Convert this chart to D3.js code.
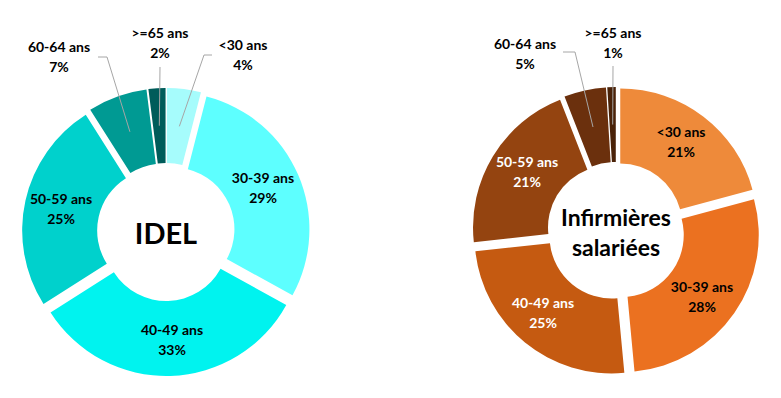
<!DOCTYPE html>
<html>
<head>
<meta charset="utf-8">
<script src="https://cdn.jsdelivr.net/npm/d3@7/dist/d3.min.js"></script>
<style>
  html, body { margin: 0; padding: 0; background: #ffffff; }
  svg { display: block; }
  text { font-family: Lato, "Open Sans", sans-serif; font-weight: 700; }
</style>
</head>
<body>
<svg id="chart" width="781" height="398"></svg>
<script>
// ---- Data ----
const categories = ["<30 ans", "30-39 ans", "40-49 ans", "50-59 ans", "60-64 ans", ">=65 ans"];
const idelValues = [4, 29, 33, 25, 7, 2];
const salarieesValues = [21, 28, 25, 21, 5, 1];
const idelTitle = ["IDEL"];
const salarieesTitle = ["Infirmières", "salariées"];

// ---- Styles / layout (not data) ----
const idelColors = ["#A6FCFC", "#5DFFFF", "#00F3EF", "#00D1CC", "#009A93", "#005C5A"];
const salarieesColors = ["#EE8A3A", "#EB7120", "#C55A11", "#944410", "#6B300D", "#4A2208"];
const idelLabelColors = ["#000", "#000", "#000", "#000", "#000", "#000"];
const salarieesLabelColors = ["#000", "#000", "#fff", "#fff", "#000", "#000"];

// label anchor (first-line baseline) relative to donut centre
const idelLabelPos = [[77, -182], [97, -49], [6, 103], [-105, -28], [-107, -180], [-6, -194]];
const salarieesLabelPos = [[65, -94], [86, 61], [-73, 77], [-89, -64], [-91, -182], [-3, -193]];
// leader line start points (relative), null when no leader
const idelLeaders = [[[46, -177], [38, -177]], null, null, null, [[-68, -175], [-59, -175]], [[-6, -165]]];
const salarieesLeaders = [null, null, null, null, [[-53, -179], [-41, -179]], [[-3, -165]]];

const R = 137, r = 62, explode = 7;

const svg = d3.select("#chart");

function drawDonut(cfg) {
  const g = svg.append("g").attr("transform", `translate(${cfg.cx},${cfg.cy})`);
  const pie = d3.pie().sort(null).value(d => d.value).startAngle(0).endAngle(2 * Math.PI);
  const arc = d3.arc().innerRadius(r).outerRadius(R);
  const data = categories.map((c, i) => ({ cat: c, value: cfg.values[i], i }));
  const arcs = pie(data);
  const offset = a => {
    const mid = (a.startAngle + a.endAngle) / 2;
    return [Math.sin(mid) * explode, -Math.cos(mid) * explode];
  };

  g.selectAll("path.slice").data(arcs).join("path")
    .attr("class", "slice")
    .attr("d", arc)
    .attr("fill", d => cfg.colors[d.data.i])
    .attr("transform", d => { const o = offset(d); return `translate(${o[0]},${o[1]})`; });

  // leader lines
  arcs.forEach(a => {
    const pts = cfg.leaders[a.data.i];
    if (!pts) return;
    const c = arc.centroid(a), o = offset(a);
    const all = pts.concat([[c[0] + o[0], c[1] + o[1]]]);
    g.append("path")
      .attr("d", d3.line()(all))
      .attr("fill", "none")
      .attr("stroke", "#A6A6A6")
      .attr("stroke-width", 1);
  });

  // labels
  arcs.forEach(a => {
    const i = a.data.i;
    const p = cfg.labelPos[i];
    const t = g.append("text")
      .attr("text-anchor", "middle")
      .attr("font-size", 14)
      .attr("fill", cfg.labelColors[i]);
    t.append("tspan").attr("x", p[0]).attr("y", p[1]).text(a.data.cat);
    t.append("tspan").attr("x", p[0]).attr("y", p[1] + 20).text(a.data.value + "%");
  });

  // centre title
  const tt = g.append("text").attr("text-anchor", "middle").attr("fill", "#000")
    .attr("font-size", cfg.titleSize);
  cfg.title.forEach((line, k) => {
    tt.append("tspan").attr("x", 0).attr("y", cfg.titleY + k * cfg.titleLH).text(line);
  });
}

drawDonut({
  cx: 166, cy: 232, values: idelValues, colors: idelColors, labelColors: idelLabelColors,
  labelPos: idelLabelPos, leaders: idelLeaders, title: idelTitle, titleSize: 29, titleY: 12, titleLH: 0
});
drawDonut({
  cx: 616, cy: 231, values: salarieesValues, colors: salarieesColors, labelColors: salarieesLabelColors,
  labelPos: salarieesLabelPos, leaders: salarieesLeaders, title: salarieesTitle, titleSize: 23, titleY: -5, titleLH: 30
});
</script>
</body>
</html>
